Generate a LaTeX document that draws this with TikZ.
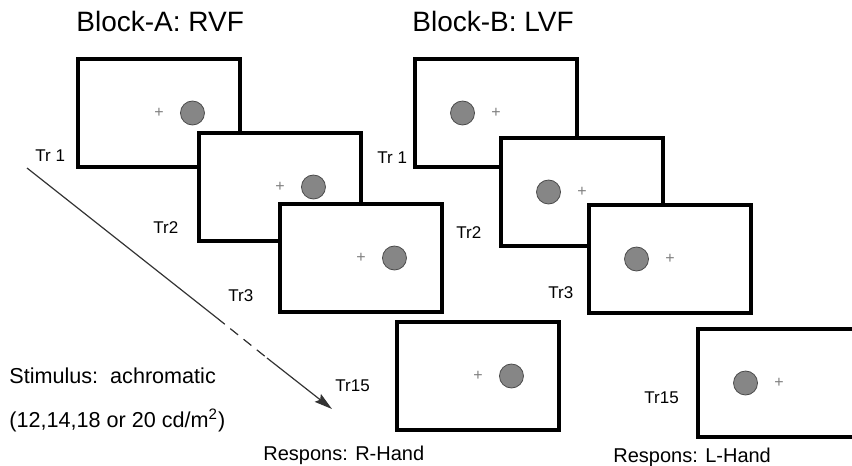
\documentclass[tikz,border=0pt]{standalone}
\usepackage{fontspec}
\setmainfont{Liberation Sans}
\usepackage{tikz}
\usetikzlibrary{arrows.meta, positioning}

\begin{document}
\begin{tikzpicture}[
    x=0.5pt, y=-0.5pt,
    screen/.style={draw, line width=2pt, fill=white, anchor=north west,
      minimum width=81pt, minimum height=54pt, inner sep=0pt},
    target/.style={circle, draw=gray!60!black, fill=gray!95, line width=0.4pt,
      minimum size=12pt, inner sep=0pt},
    fixmark/.style={text=gray, font=\fontsize{8}{8}\selectfont, inner sep=0pt},
    titlelab/.style={anchor=base west, font=\fontsize{14}{15}\selectfont, inner sep=0pt},
    trlab/.style={anchor=base west, font=\fontsize{8.5}{9}\selectfont, inner sep=0pt},
    notelab/.style={anchor=base west, font=\fontsize{10.8}{12}\selectfont, inner sep=0pt},
    resplab/.style={anchor=base west, font=\fontsize{10}{11}\selectfont, inner sep=0pt},
    trend/.style={gray!40!black, line width=0.6pt},
  ]
    \useasboundingbox (0,0) rectangle (852,466);
    \clip (0,0) rectangle (852,466);

    % block A: target right of fixation
    \node[titlelab] (ta) at (76,32) {Block-A: RVF};
    \node[screen] (a1) at (76,57) {};
    \node[fixmark] (a1f) at (a1.center) {+};
    \node[target, right=8pt of a1f] (a1t) {};
    \node[screen] (a2) at (197,131) {};
    \node[fixmark] (a2f) at (a2.center) {+};
    \node[target, right=8pt of a2f] (a2t) {};
    \node[screen] (a3) at (278,202) {};
    \node[fixmark] (a3f) at (a3.center) {+};
    \node[target, right=8pt of a3f] (a3t) {};
    \node[screen] (a15) at (395,320) {};
    \node[fixmark] (a15f) at (a15.center) {+};
    \node[target, right=8pt of a15f] (a15t) {};
    \node[trlab] (la1) at (35,161) {Tr 1};
    \node[trlab] (la2) at (153,233) {Tr2};
    \node[trlab] (la3) at (228,301) {Tr3};
    \node[trlab] (la15) at (335,391) {Tr15};

    % block B: target left of fixation
    \node[titlelab] (tb) at (412,32) {Block-B: LVF};
    \node[screen] (b1) at (413,57) {};
    \node[fixmark] (b1f) at (b1.center) {+};
    \node[target, left=8pt of b1f] (b1t) {};
    \node[screen] (b2) at (499,136) {};
    \node[fixmark] (b2f) at (b2.center) {+};
    \node[target, left=8pt of b2f] (b2t) {};
    \node[screen] (b3) at (587,203) {};
    \node[fixmark] (b3f) at (b3.center) {+};
    \node[target, left=8pt of b3f] (b3t) {};
    \node[screen] (b15) at (696,327) {};
    \node[fixmark] (b15f) at (b15.center) {+};
    \node[target, left=8pt of b15f] (b15t) {};
    \node[trlab] (lb1) at (377,163) {Tr 1};
    \node[trlab] (lb2) at (456,238) {Tr2};
    \node[trlab] (lb3) at (548,298) {Tr3};
    \node[trlab] (lb15) at (644,403) {Tr15};

    % trial sequence arrow
    \coordinate (s0) at (27,168);
    \coordinate (s1) at (217,318);
    \coordinate (s2) at (267,358);
    \coordinate (s3) at (332,409);
    \draw[trend] (s0) -- (s1);
    \draw[trend, dash pattern=on 5pt off 3.5pt] (s1) -- (s2);
    \draw[trend, -{Stealth[length=9pt, width=5pt, inset=1.5pt]}] (s2) -- (s3);

    \node[notelab] (stim) at (9,383) {Stimulus:\ \ achromatic};
    \node[notelab] (lum) at (9,427) {(12,14,18 or 20 cd/m\textsuperscript{2})};
    \node[resplab] (ra) at (263,460) {Respons: R-Hand};
    \node[resplab] (rb) at (613,462) {Respons: L-Hand};
  \end{tikzpicture}
\end{document}
